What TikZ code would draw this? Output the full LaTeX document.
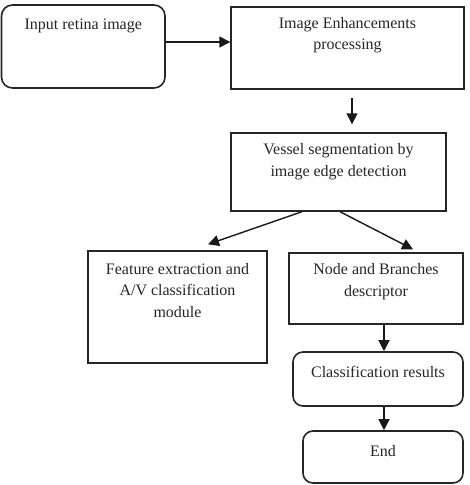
\documentclass[tikz,border=0pt]{standalone}
\usepackage{fontspec}
\setmainfont{Liberation Serif}
\usetikzlibrary{calc,arrows.meta}
\begin{document}
\begin{tikzpicture}[x=1pt,y=-1pt,
  box/.style={draw=black!85,line width=1.4pt,inner sep=0pt},
  rbox/.style={box,line width=1.6pt,rounded corners=11pt},
  txt/.style={align=center,inner sep=0pt,font=\fontsize{16}{21.5}\selectfont,text=black!85},
  arr/.style={draw=black!90,line width=1.4pt,-{Triangle[length=11pt,width=11pt]}}]
\useasboundingbox (0,0) rectangle (469,485);
\node[rbox,minimum width=163.5pt,minimum height=83pt] (b1) at (83.25,46.5) {};
\node[box,minimum width=233pt,minimum height=82pt] (b2) at (347.5,48) {};
\node[box,minimum width=215pt,minimum height=78pt] (b3) at (338.5,172) {};
\node[box,minimum width=179pt,minimum height=112pt] (b4) at (177.5,307) {};
\node[box,minimum width=174pt,minimum height=71pt] (b5) at (376,288.5) {};
\node[rbox,rounded corners=10pt,minimum width=170pt,minimum height=54pt] (b6) at (378,379) {};
\node[rbox,rounded corners=10pt,minimum width=160pt,minimum height=52pt] (b7) at (383,457) {};

\node[txt] (t1) at ($(b1.north)+(0,22)$) {Input retina image};
\node[txt] (t2) at ($(b2.north)+(0,29)$) {Image Enhancements\\processing};
\node[txt] (t3) at ($(b3.north)+(0,29.5)$) {Vessel segmentation by\\image edge detection};
\node[txt] (t4) at ($(b4.north)+(0,40)$) {Feature extraction and\\A/V classification\\module};
\node[txt] (t5) at ($(b5.north)+(0,29.5)$) {Node and Branches\\descriptor};
\node[txt] (t6) at ($(b6.north)+(0,21)$) {Classification results};
\node[txt] (t7) at ($(b7.north)+(0,21)$) {End};

\draw[arr] ($(b1.east)+(0,-4.5)$) -- ($(b2.west)+(0,-6)$);
\draw[arr] ($(b2.south)+(4.5,8)$) -- ($(b3.north)+(13.5,-8)$);
\draw[arr] ($(b3.south)+(-36.5,0)$) -- ($(b4.north)+(30.5,-6)$);
\draw[arr] ($(b3.south)+(1.5,0)$) -- ($(b5.north)+(37,-3)$);
\draw[arr] ($(b5.south)+(8,0)$) -- ($(b6.north)+(6,0)$);
\draw[arr] ($(b6.south)+(6,0)$) -- ($(b7.north)+(1,0)$);
\end{tikzpicture}
\end{document}
